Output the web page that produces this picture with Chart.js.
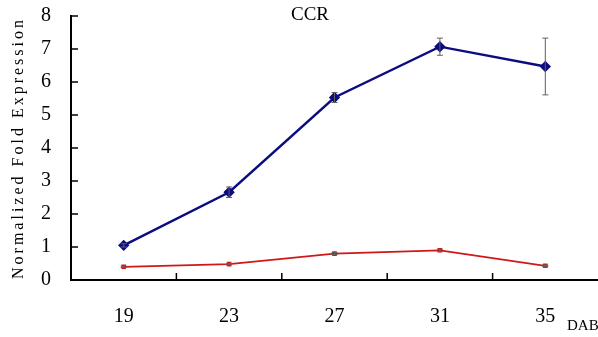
<!DOCTYPE html>
<html>
<head>
<meta charset="utf-8">
<script src="https://cdn.jsdelivr.net/npm/chart.js@4.4.1/dist/chart.umd.min.js"></script>
<style>
  html, body { margin: 0; padding: 0; background: #fff; }
  #wrap { width: 598px; height: 337px; }
</style>
</head>
<body>
<div id="wrap"><canvas id="myChart"></canvas></div>
<script>
const days = ['19', '23', '27', '31', '35'];
const blueVals = [1.05, 2.66, 5.53, 7.07, 6.47];
const blueErr = [0.05, 0.16, 0.15, 0.26, 0.86];
const redVals = [0.40, 0.48, 0.80, 0.90, 0.43];
const redErr = [0.02, 0.02, 0.03, 0.03, 0.02];

// error bars + inward ticks + text labels
const extras = {
  id: 'extras',
  afterDatasetsDraw(chart) {
    const ctx = chart.ctx;
    const x = chart.scales.x;
    const y = chart.scales.y;

    ctx.save();
    ctx.strokeStyle = '#606060';
    ctx.lineWidth = 1;
    const sets = [[blueVals, blueErr], [redVals, redErr]];
    for (const [vals, errs] of sets) {
      for (let i = 0; i < vals.length; i++) {
        const px = x.getPixelForValue(i);
        const top = y.getPixelForValue(vals[i] + errs[i]);
        const bot = y.getPixelForValue(vals[i] - errs[i]);
        ctx.beginPath();
        ctx.moveTo(px, top); ctx.lineTo(px, bot);
        ctx.moveTo(px - 3, top); ctx.lineTo(px + 3, top);
        ctx.moveTo(px - 3, bot); ctx.lineTo(px + 3, bot);
        ctx.stroke();
      }
    }
    ctx.restore();
  },
  afterDraw(chart) {
    const ctx = chart.ctx;
    const x = chart.scales.x;
    const y = chart.scales.y;
    const area = chart.chartArea;
    ctx.save();
    ctx.strokeStyle = '#000';
    ctx.lineWidth = 1.5;
    ctx.beginPath();
    for (let v = 0; v <= 8; v++) {
      const py = y.getPixelForValue(v);
      ctx.moveTo(area.left, py); ctx.lineTo(area.left + 7, py);
    }
    for (let i = 1; i < days.length; i++) {
      const px = (x.getPixelForValue(i - 1) + x.getPixelForValue(i)) / 2;
      ctx.moveTo(px, area.bottom); ctx.lineTo(px, area.bottom - 7);
    }
    ctx.stroke();

    ctx.fillStyle = '#000';
    ctx.font = '19px "Liberation Serif"';
    ctx.textAlign = 'center';
    ctx.textBaseline = 'middle';
    ctx.fillText('CCR', 310, 15);

    ctx.font = '15px "Liberation Serif"';
    ctx.textAlign = 'left';
    ctx.fillText('DAB', 567, 326);

    ctx.translate(19, (area.top + area.bottom) / 2);
    ctx.rotate(-Math.PI / 2);
    ctx.font = '16px "Liberation Serif"';
    ctx.letterSpacing = '3px';
    ctx.textAlign = 'center';
    ctx.fillText('Normalized Fold Expression', 0, 0);
    ctx.restore();
  }
};

new Chart(document.getElementById('myChart'), {
  type: 'line',
  data: {
    labels: days,
    datasets: [
      {
        label: 'blue',
        data: blueVals,
        borderColor: '#0c0c80',
        backgroundColor: '#0c0c80',
        borderWidth: 2.4,
        pointStyle: 'rectRot',
        pointRadius: 4,
        tension: 0,
        clip: false
      },
      {
        label: 'red',
        data: redVals,
        borderColor: '#d01818',
        backgroundColor: '#d01818',
        borderWidth: 1.8,
        pointStyle: 'rect',
        pointRadius: 2,
        tension: 0,
        clip: false
      }
    ]
  },
  options: {
    responsive: true,
    maintainAspectRatio: false,
    animation: false,
    layout: { autoPadding: false, padding: { top: 16, right: 0, left: 0, bottom: 0 } },
    plugins: {
      legend: { display: false },
      tooltip: { enabled: false }
    },
    scales: {
      x: {
        offset: true,
        grid: { display: false, drawTicks: false },
        border: { display: true, color: '#000', width: 2 },
        ticks: {
          color: '#000',
          font: { family: '"Liberation Serif"', size: 20 },
          padding: 25,
          maxRotation: 0
        },
        afterFit(scale) {
          scale.height = 57;
          scale.paddingLeft = 0;
          scale.paddingRight = 0;
        }
      },
      y: {
        min: 0,
        max: 8,
        grid: { display: false, drawTicks: false },
        border: { display: true, color: '#000', width: 2 },
        ticks: {
          stepSize: 1,
          color: '#000',
          font: { family: '"Liberation Serif"', size: 20 },
          padding: 20
        },
        afterFit(scale) {
          scale.width = 71;
          scale.paddingTop = 0;
          scale.paddingBottom = 0;
        }
      }
    }
  },
  plugins: [extras]
});
</script>
</body>
</html>
